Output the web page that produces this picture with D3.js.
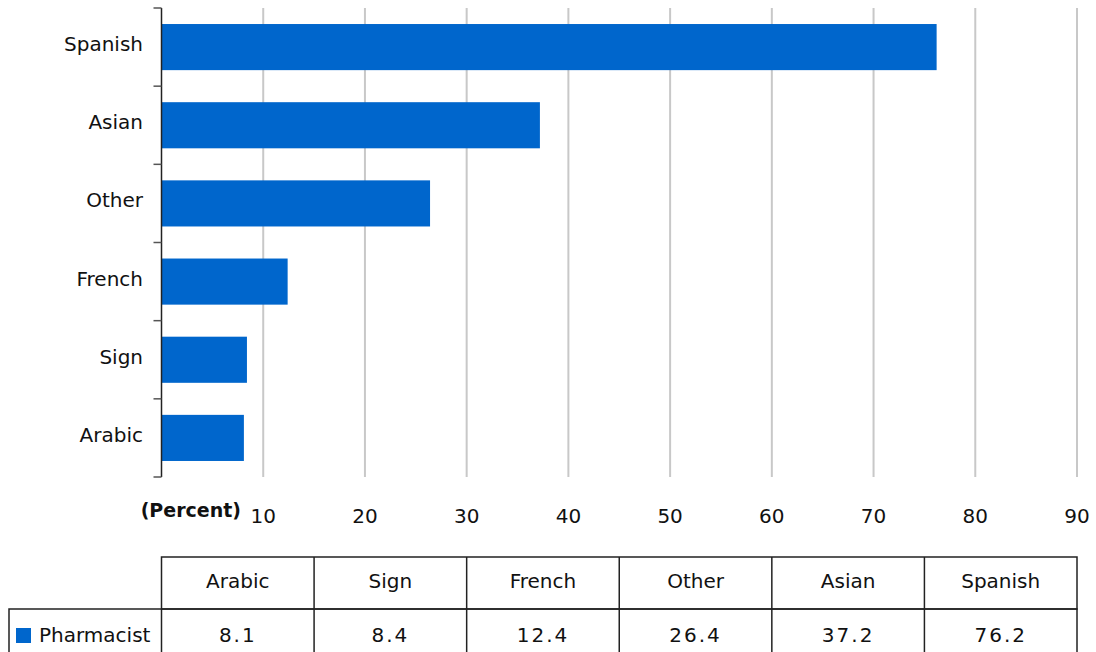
<!DOCTYPE html>
<html>
<head>
<meta charset="utf-8">
<script src="https://cdn.jsdelivr.net/npm/d3@7"></script>
<style>
  html, body { margin: 0; padding: 0; background: #fff; }
  text { font-family: "DejaVu Sans", sans-serif; fill: #111; }
</style>
</head>
<body>
<svg id="chart" width="1096" height="652"></svg>
<script>
// Languages spoken, bottom-to-top in the chart / left-to-right in the table
const categories = ["Arabic", "Sign", "French", "Other", "Asian", "Spanish"];
const pharmacistValues = [8.1, 8.4, 12.4, 26.4, 37.2, 76.2];
const seriesName = "Pharmacist";
const xTicks = [10, 20, 30, 40, 50, 60, 70, 80, 90];
const axisTitle = "(Percent)";

(function draw() {
  const svg = d3.select("#chart");
  const barColor = "#0066cc";
  const gridColor = "#c8c8c8";

  const plotL = 161.5, plotR = 1077, plotT = 8, plotB = 477;

  const x = d3.scaleLinear().domain([0, 90]).range([plotL, plotR]);
  // Spanish at top, Arabic at bottom
  const order = categories.slice().reverse();
  const y = d3.scaleBand().domain(order).range([plotT, plotB]).paddingInner(0.41).paddingOuter(0.205);
  const yOuter = d3.scaleBand().domain(order).range([plotT, plotB]);

  // vertical gridlines
  svg.append("g").selectAll("line").data(xTicks).join("line")
    .attr("x1", d => x(d)).attr("x2", d => x(d))
    .attr("y1", plotT).attr("y2", plotB)
    .attr("stroke", gridColor).attr("stroke-width", 2);

  // bars
  const data = categories.map((c, i) => ({ c, v: pharmacistValues[i] }));
  svg.append("g").selectAll("rect").data(data).join("rect")
    .attr("x", x(0)).attr("y", d => y(d.c))
    .attr("width", d => x(d.v) - x(0)).attr("height", y.bandwidth())
    .attr("fill", barColor);

  // category axis with ticks at band boundaries
  const bounds = order.map(c => yOuter(c)).concat([plotB]);
  svg.append("line").attr("x1", plotL).attr("x2", plotL).attr("y1", plotT).attr("y2", plotB)
    .attr("stroke", "#222").attr("stroke-width", 1.5);
  svg.append("g").selectAll("line").data(bounds).join("line")
    .attr("x1", plotL - 8).attr("x2", plotL).attr("y1", d => d).attr("y2", d => d)
    .attr("stroke", "#555").attr("stroke-width", 1.5);
  svg.append("g").selectAll("text").data(categories).join("text")
    .attr("x", 143).attr("y", d => yOuter(d) + yOuter.bandwidth() / 2 - 3)
    .attr("dy", "0.35em").attr("text-anchor", "end")
    .attr("font-size", 20).text(d => d);

  // value axis labels
  svg.append("g").selectAll("text").data(xTicks).join("text")
    .attr("x", d => x(d)).attr("y", 523)
    .attr("text-anchor", "middle").attr("font-size", 20).text(d => d);
  svg.append("text").attr("x", 241).attr("y", 517).attr("text-anchor", "end")
    .attr("font-size", 19).attr("font-weight", "bold").text(axisTitle);

  // data table
  const colW = (plotR - plotL) / categories.length;
  const hTop = 557, hBot = 609, rBot = 660;
  const tbl = svg.append("g").attr("stroke", "#222").attr("stroke-width", 1.5).attr("fill", "none");
  tbl.append("rect").attr("x", plotL).attr("y", hTop).attr("width", plotR - plotL).attr("height", hBot - hTop);
  tbl.append("rect").attr("x", 9).attr("y", hBot).attr("width", plotR - 9).attr("height", rBot - hBot);
  categories.forEach((c, i) => {
    if (i > 0) tbl.append("line").attr("x1", plotL + i * colW).attr("x2", plotL + i * colW).attr("y1", hTop).attr("y2", rBot);
  });
  tbl.append("line").attr("x1", plotL).attr("x2", plotL).attr("y1", hBot).attr("y2", rBot);

  svg.append("g").selectAll("text").data(categories).join("text")
    .attr("x", (d, i) => plotL + (i + 0.5) * colW).attr("y", (hTop + hBot) / 2 - 2)
    .attr("dy", "0.35em").attr("text-anchor", "middle").attr("font-size", 20).text(d => d);
  svg.append("g").selectAll("text").data(pharmacistValues).join("text")
    .attr("x", (d, i) => plotL + (i + 0.5) * colW).attr("y", 635)
    .attr("dy", "0.35em").attr("text-anchor", "middle").attr("font-size", 20)
    .attr("letter-spacing", 2).text(d => d.toFixed(1));

  // legend key in the row header
  svg.append("rect").attr("x", 16).attr("y", 628).attr("width", 15).attr("height", 15).attr("fill", barColor);
  svg.append("text").attr("x", 39).attr("y", 635).attr("dy", "0.35em").attr("font-size", 20).text(seriesName);
})();
</script>
</body>
</html>
